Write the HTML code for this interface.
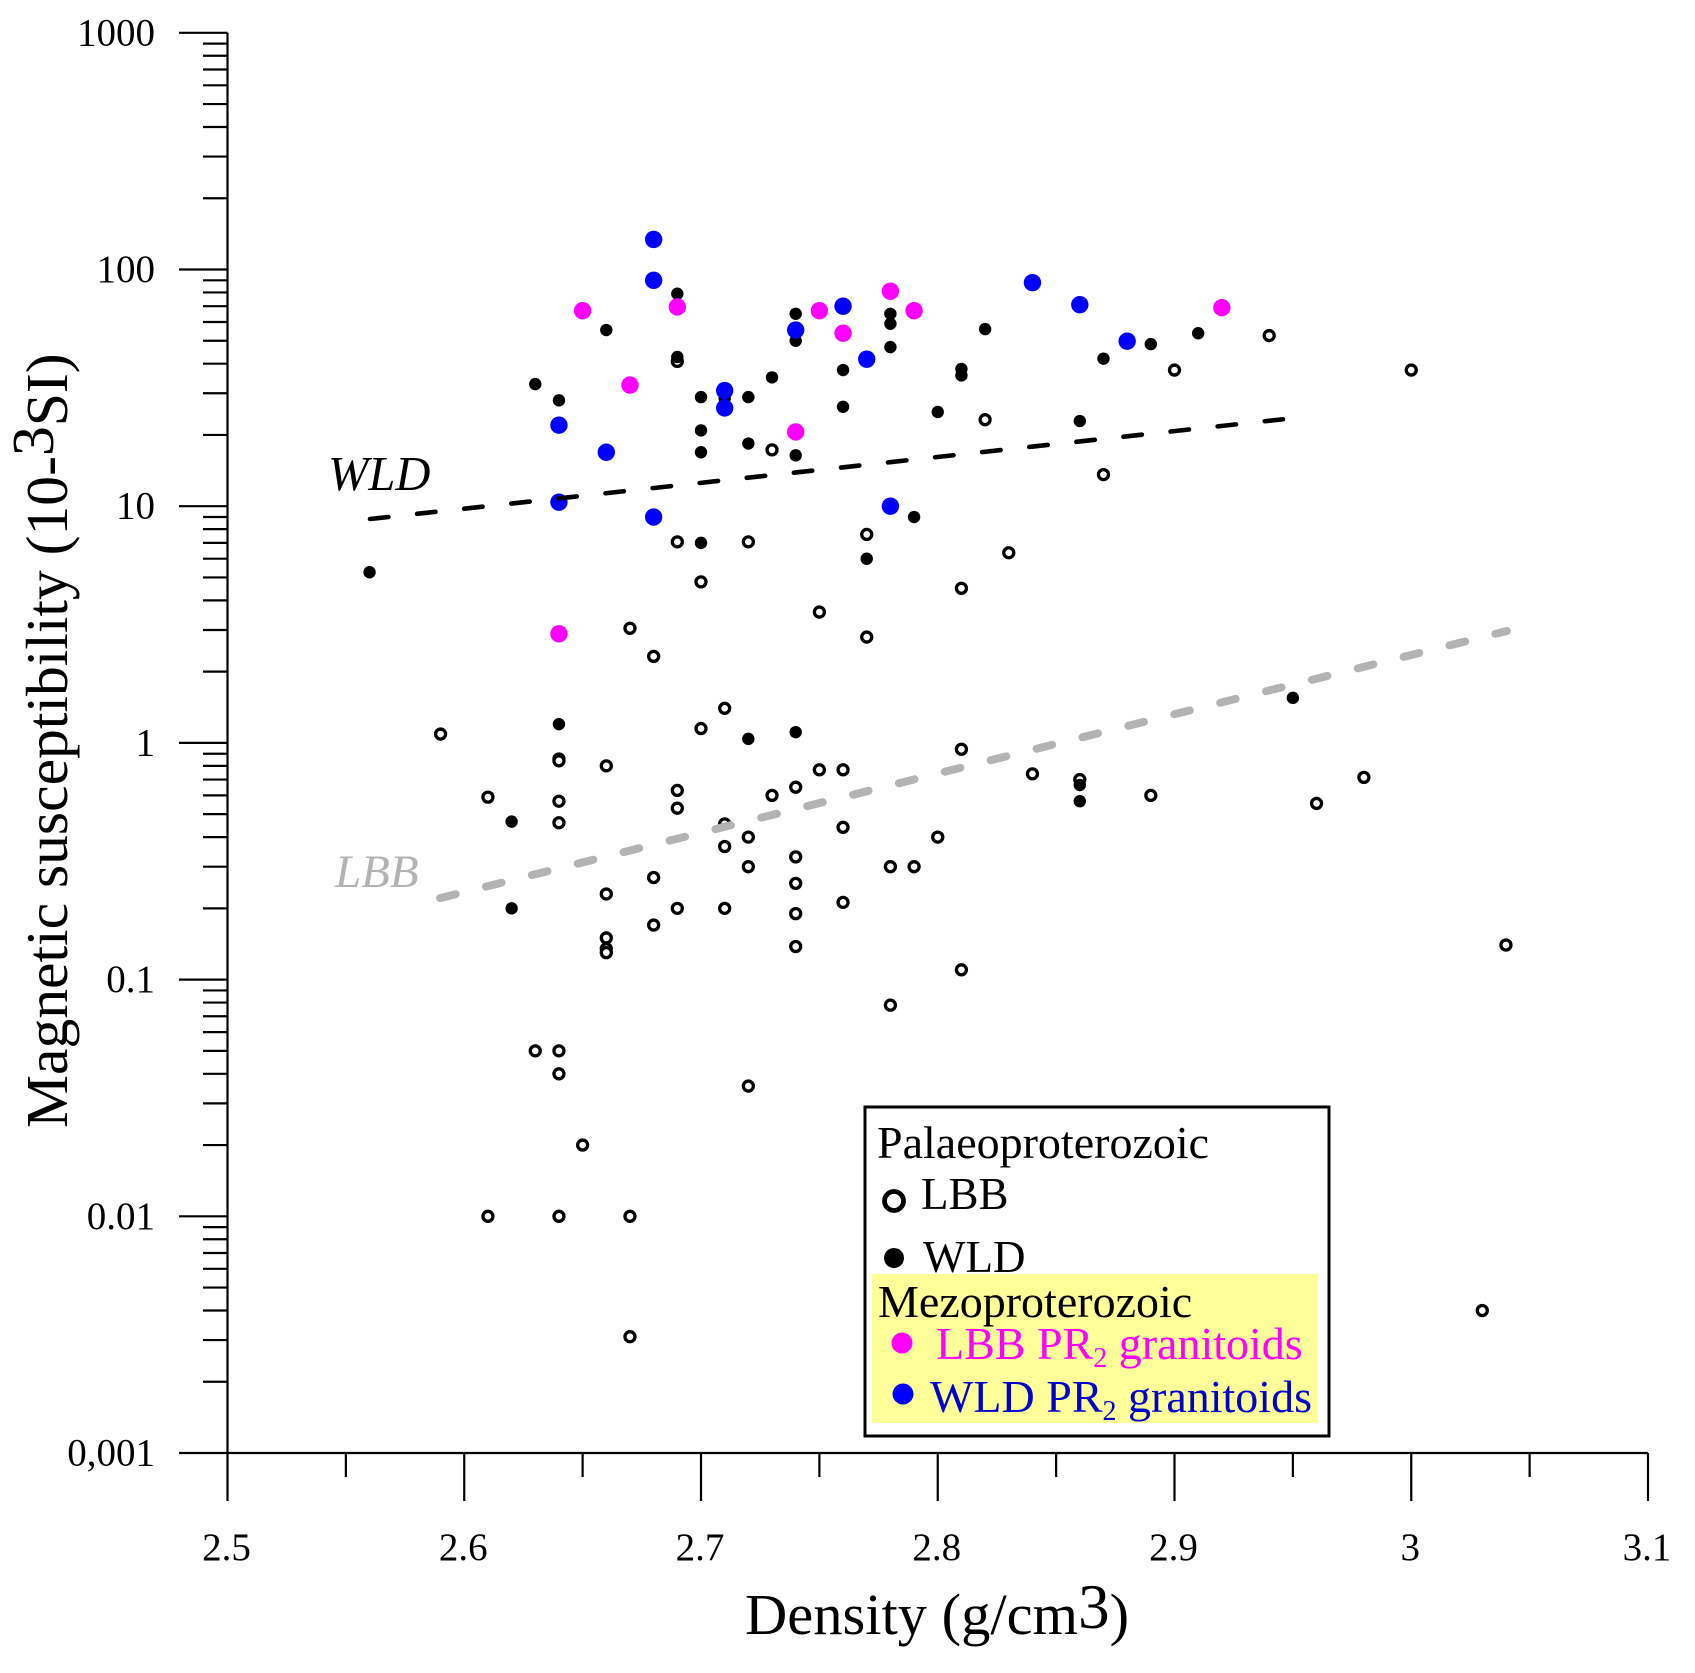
<!DOCTYPE html>
<html lang="en">
<head>
<meta charset="utf-8">
<title>Magnetic susceptibility vs density</title>
<style>
html,body{margin:0;padding:0;background:#fff;}
svg{display:block;}
text{font-family:"Liberation Serif",serif;}
</style>
</head>
<body>
<svg id="chart" xmlns="http://www.w3.org/2000/svg" width="1695" height="1673" viewBox="0 0 1695 1673">
  <g id="axes"></g>
  <g id="trends"></g>
  <g id="points"></g>
  <text transform="translate(67,1128) rotate(-90)" font-size="59.6" fill="#000">Magnetic susceptibility (10-<tspan dy="-14">3</tspan><tspan dy="14">SI)</tspan></text>
  <text x="745" y="1634" font-size="58.5" fill="#000">Density (g/cm<tspan font-size="63" dy="-6">3</tspan><tspan dy="6">)</tspan></text>
  <text x="328" y="490" font-size="48.5" font-style="italic" fill="#000">WLD</text>
  <text x="335" y="887" font-size="47" font-style="italic" fill="#b3b3b3">LBB</text>
  <g>
    <rect x="865" y="1107" width="464" height="329" fill="#fff" stroke="#000" stroke-width="3"/>
    <rect x="872" y="1274" width="446" height="149" fill="#ffff99"/>
    <text x="877" y="1158" font-size="46">Palaeoproterozoic</text>
    <circle cx="894" cy="1201" r="9.5" fill="#fff" stroke="#000" stroke-width="4.8"/>
    <text x="921" y="1209" font-size="45">LBB</text>
    <circle cx="894" cy="1258" r="10" fill="#000"/>
    <text x="923" y="1272" font-size="45">WLD</text>
    <text x="878" y="1317" font-size="46">Mezoproterozoic</text>
    <circle cx="902" cy="1343" r="10.5" fill="#ff00ff"/>
    <text x="936" y="1359" font-size="46" fill="#ff00ff">LBB PR<tspan font-size="28" dy="8">2</tspan><tspan dy="-8"> granitoids</tspan></text>
    <circle cx="903" cy="1394" r="10.5" fill="#0000ff"/>
    <text x="930" y="1412" font-size="46" fill="#0000cc">WLD PR<tspan font-size="28" dy="8">2</tspan><tspan dy="-8"> granitoids</tspan></text>
  </g>
</svg>
<script>
var xTicks = [2.5, 2.6, 2.7, 2.8, 2.9, 3, 3.1];
var xTickLabels = ['2.5', '2.6', '2.7', '2.8', '2.9', '3', '3.1'];
var xMinorTicks = [2.55, 2.65, 2.75, 2.85, 2.95, 3.05];
var yTicks = [1000, 100, 10, 1, 0.1, 0.01, 0.001];
var yTickLabels = ['1000', '100', '10', '1', '0.1', '0.01', '0,001'];
var yMinorMultipliers = [2, 3, 4, 5, 6, 7, 8, 9];

var lbbDensity = [2.94,3,2.9,2.69,2.82,2.73,2.87,2.77,2.69,2.72,2.83,2.7,2.81,2.75,2.67,2.77,2.68,2.59,2.71,2.7,2.64,2.64,2.66,2.81,2.75,2.76,2.84,2.86,2.98,2.74,2.69,2.73,2.89,2.61,2.64,2.96,2.69,2.64,2.71,2.76,2.72,2.8,2.71,2.74,2.72,2.78,2.79,2.68,2.74,2.66,2.76,2.69,2.71,2.74,2.68,2.66,2.66,2.66,2.74,3.04,2.81,2.78,2.63,2.64,2.64,2.72,2.65,2.61,2.64,2.67,3.03,2.67];
var lbbSusceptibility = [52.6,37.6,37.6,40.9,23.2,17.3,13.6,7.6,7.07,7.07,6.36,4.79,4.5,3.57,3.05,2.8,2.32,1.09,1.4,1.15,0.855,0.84,0.8,0.94,0.77,0.77,0.74,0.7,0.715,0.65,0.63,0.6,0.6,0.59,0.567,0.555,0.53,0.46,0.455,0.44,0.4,0.4,0.365,0.33,0.3,0.3,0.3,0.27,0.255,0.23,0.212,0.2,0.2,0.19,0.17,0.15,0.135,0.13,0.138,0.14,0.11,0.078,0.05,0.05,0.04,0.0355,0.02,0.01,0.01,0.01,0.004,0.0031];

var wldDensity = [2.69,2.66,2.74,2.78,2.78,2.82,2.91,2.89,2.74,2.78,2.69,2.87,2.81,2.81,2.76,2.73,2.63,2.7,2.72,2.64,2.71,2.76,2.8,2.86,2.7,2.72,2.7,2.74,2.79,2.7,2.77,2.56,2.95,2.64,2.74,2.72,2.86,2.86,2.62,2.62];
var wldSusceptibility = [79,55.5,65,65,59,56,53.8,48.4,50,47,42.7,42,38,35.7,37.6,35,32.8,28.9,28.9,28,28.5,26.3,25,22.9,20.9,18.4,16.9,16.4,9,7,6,5.26,1.55,1.2,1.11,1.04,0.664,0.567,0.465,0.2];

var lbbPr2Density = [2.65,2.69,2.75,2.76,2.78,2.79,2.92,2.67,2.74,2.64];
var lbbPr2Susceptibility = [67,69.5,67,53.8,81,67,69,32.5,20.6,2.89];

var wldPr2Density = [2.68,2.68,2.84,2.76,2.86,2.74,2.88,2.77,2.71,2.71,2.64,2.66,2.64,2.68,2.78];
var wldPr2Susceptibility = [134,90,88,70,71,55.5,49.8,41.8,30.8,26,22,16.9,10.4,9,10];

var wldTrendDensity = [2.5602, 2.9458];
var wldTrendSusceptibility = [8.83, 23.3];
var lbbTrendDensity = [2.5898, 3.0404];
var lbbTrendSusceptibility = [0.221, 2.97];

var NS = 'http://www.w3.org/2000/svg';
function xScale(v) { return 227.5 + (v - 2.5) * 2367.5; }
function yScale(v) { return 1453 - (Math.log10(v) + 3) * 236.7; }
function make(tag, attrs, parent) {
  var el = document.createElementNS(NS, tag);
  for (var k in attrs) el.setAttribute(k, attrs[k]);
  parent.appendChild(el);
  return el;
}

var axes = document.getElementById('axes');
var axisStyle = { stroke: '#000', 'stroke-width': 2.2 };
function line(x1, y1, x2, y2, name) {
  var el = make('line', { x1: x1, y1: y1, x2: x2, y2: y2, stroke: axisStyle.stroke, 'stroke-width': axisStyle['stroke-width'] }, axes);
  
  
  return el;
}
line(xScale(2.5), yScale(1000), xScale(2.5), yScale(0.001), 'y-axis-line');
line(xScale(2.5), yScale(0.001), xScale(3.1), yScale(0.001), 'x-axis-line');

xTicks.forEach(function (v, i) {
  var x = xScale(v);
  line(x, yScale(0.001), x, yScale(0.001) + 48, 'x-tick-major');
  var t = make('text', { x: x - 1, y: 1560, 'font-size': 39, 'text-anchor': 'middle' }, axes);
  
  
  t.textContent = xTickLabels[i];
});
xMinorTicks.forEach(function (v) {
  var x = xScale(v);
  line(x, yScale(0.001), x, yScale(0.001) + 24, 'x-tick-minor');
});
yTicks.forEach(function (v, i) {
  var y = yScale(v);
  line(179, y, xScale(2.5), y, 'y-tick-major');
  var t = make('text', { x: 155, y: y + 12.5, 'font-size': 39, 'text-anchor': 'end' }, axes);
  
  
  t.textContent = yTickLabels[i];
  if (v > 0.001) {
    yMinorMultipliers.forEach(function (m) {
      var ym = yScale(v / 10 * m);
      line(203, ym, xScale(2.5), ym, 'y-tick-minor');
    });
  }
});

var trends = document.getElementById('trends');
function trend(xs, ys, color, width, dash, name) {
  var el = make('line', {
    x1: xScale(xs[0]), y1: yScale(ys[0]), x2: xScale(xs[1]), y2: yScale(ys[1]),
    stroke: color, 'stroke-width': width, 'stroke-dasharray': dash, 'stroke-linecap': 'round'
  }, trends);
  
  
}

var pts = document.getElementById('points');
function series(xs, ys, attrs, name) {
  xs.forEach(function (d, i) {
    var c = make('circle', { cx: xScale(d), cy: yScale(ys[i]) }, pts);
    for (var k in attrs) c.setAttribute(k, attrs[k]);
    
    
  });
}
series(lbbDensity, lbbSusceptibility, { r: 5, fill: '#fff', stroke: '#000', 'stroke-width': 3.3 }, 'lbb-point');
series(wldDensity, wldSusceptibility, { r: 6.2, fill: '#000' }, 'wld-point');
series(lbbPr2Density, lbbPr2Susceptibility, { r: 8.7, fill: '#ff00ff' }, 'lbb-pr2-point');
series(wldPr2Density, wldPr2Susceptibility, { r: 8.7, fill: '#0000ff' }, 'wld-pr2-point');

// trend lines sit on top of the points
pts.parentNode.appendChild(trends);
trend(wldTrendDensity, wldTrendSusceptibility, '#000', 4.6, '18.5 28.87', 'wld-trend-line');
trend(lbbTrendDensity, lbbTrendSusceptibility, '#b3b3b3', 8, '16 31.3', 'lbb-trend-line');
</script>
</body>
</html>
